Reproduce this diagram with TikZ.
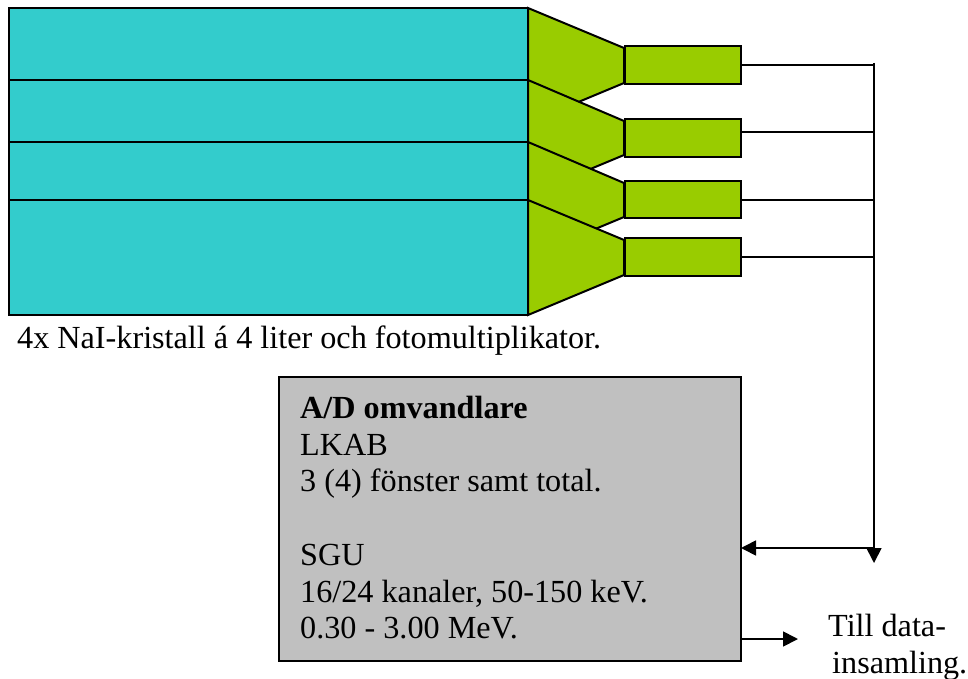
\documentclass[tikz,border=0pt]{standalone}
\usepackage{fontspec}
\setmainfont{Liberation Serif}
\usetikzlibrary{arrows.meta,calc}
\tikzset{
 crystal/.style={draw=black,line width=2pt,fill=cyanfill,line join=miter,outer sep=0pt},
 funnel/.style={draw=black,line width=2pt,fill=greenfill,line join=miter},
 pmt/.style={draw=black,line width=2pt,fill=greenfill,rectangle,minimum width=116pt,inner sep=0pt,outer sep=0pt,anchor=north west},
 wire/.style={draw=black,line width=1.7pt},
 arrow/.style={wire,-{Triangle[length=15pt,width=15pt]}},
 label/.style={font=\fontsize{32.2pt}{36pt}\selectfont,inner sep=0pt,anchor=base west},
}
\definecolor{cyanfill}{RGB}{51,204,204}
\definecolor{greenfill}{RGB}{153,204,0}
\definecolor{boxgrey}{RGB}{192,192,192}
\begin{document}
\begin{tikzpicture}[x=1pt,y=-1pt]
\useasboundingbox (0,0) rectangle (968,679);
% funnels
\draw[funnel] (528,8) -- (624,48) -- (624,83) -- (528,123) -- cycle;
\draw[funnel] (528,80) -- (624,121) -- (624,155) -- (528,195) -- cycle;
\draw[funnel] (528,142) -- (624,183) -- (624,217) -- (528,257) -- cycle;
\draw[funnel] (528,200) -- (624,240) -- (624,275) -- (528,315) -- cycle;
% crystals
\node[crystal,rectangle,inner sep=0pt,minimum width=519pt,minimum height=72pt,anchor=north west] (c1) at (9,8) {};
\node[crystal,rectangle,inner sep=0pt,minimum width=519pt,minimum height=62pt,anchor=north west] (c2) at (9,80) {};
\node[crystal,rectangle,inner sep=0pt,minimum width=519pt,minimum height=58pt,anchor=north west] (c3) at (9,142) {};
\node[crystal,rectangle,inner sep=0pt,minimum width=519pt,minimum height=115pt,anchor=north west] (c4) at (9,200) {};
% PMTs
\node[pmt,minimum height=38pt] (p1) at (624.5,46) {};
\node[pmt,minimum height=38pt] (p2) at (624.5,119) {};
\node[pmt,minimum height=37pt] (p3) at (624.5,181) {};
\node[pmt,minimum height=38pt] (p4) at (624.5,238) {};
% bus
\coordinate (top) at (874,63);
\coordinate (junction) at (874,548);
\coordinate (bottom) at (874,563);
\coordinate (out) at (798,639);
% box
\node[draw=black,line width=2pt,fill=boxgrey,rectangle,inner sep=0pt,outer sep=0pt,minimum width=462pt,minimum height=284pt,anchor=north west] (ad) at (279,377) {};
\coordinate (w1) at (740.5,65);
\coordinate (w2) at (740.5,132);
\coordinate (w3) at (740.5,200);
\coordinate (w4) at (740.5,257);
\draw[wire] (w1) -- (w1 -| top);
\draw[wire] (w2) -- (w2 -| top);
\draw[wire] (w3) -- (w3 -| top);
\draw[wire] (w4) -- (w4 -| top);
\draw[arrow] (top) -- (bottom);
\draw[arrow] (junction) -- (junction -| ad.east);
\draw[arrow] (out -| ad.east) -- (out);
% labels
\node[label] (cap) at (17,348) {4x NaI-kristall á 4 liter och fotomultiplikator.};
\node[label] (t1) at (300,418) {\textbf{A/D omvandlare}};
\node[label] (t2) at (300,455) {LKAB};
\node[label] (t3) at (300,491) {3 (4) fönster samt total.};
\node[label] (t4) at (300,565) {SGU};
\node[label] (t5) at (300,602) {16/24 kanaler, 50-150 keV.};
\node[label] (t6) at (300,638) {0.30 - 3.00 MeV.};
\node[label] (t7) at (828,636) {Till data-};
\node[label] (t8) at (832,673) {insamling.};
\end{tikzpicture}
\end{document}
